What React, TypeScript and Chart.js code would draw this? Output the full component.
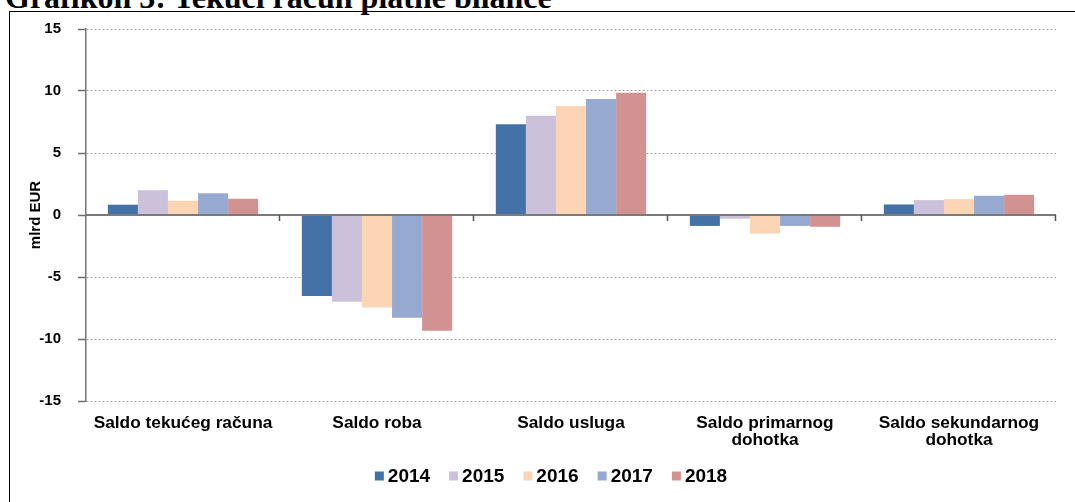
import React, { useEffect, useRef } from "react";
import { Chart, registerables } from "chart.js";

Chart.register(...registerables);

const TITLE = "Grafikon 3: Tekući račun platne bilance";
const Y_TITLE = "mlrd EUR";
const CATEGORIES: (string | string[])[] = [
  "Saldo tekućeg računa",
  "Saldo roba",
  "Saldo usluga",
  ["Saldo primarnog", "dohotka"],
  ["Saldo sekundarnog", "dohotka"],
];
const YEARS = ["2014", "2015", "2016", "2017", "2018"];
const V2014 = [0.83, -6.53, 7.31, -0.88, 0.85];
const V2015 = [2.0, -7.0, 8.0, -0.3, 1.2];
const V2016 = [1.15, -7.45, 8.79, -1.5, 1.28];
const V2017 = [1.75, -8.28, 9.35, -0.88, 1.55];
const V2018 = [1.31, -9.33, 9.86, -0.95, 1.63];
const SERIES = [V2014, V2015, V2016, V2017, V2018];
const COLORS = ["#4472A6", "#CCC1DA", "#FCD5B4", "#95A9D1", "#D39292"];
const Y_MIN = -15;
const Y_MAX = 15;
const Y_STEP = 5;

const FONT = "'Liberation Sans', Arial, sans-serif";

const decorPlugin = {
  id: "decor",
  afterDatasetsDraw(chart: any) {
    const { ctx, chartArea, scales } = chart;
    const y0 = scales.y.getPixelForValue(0);
    ctx.save();
    ctx.strokeStyle = "#7a7a7a";
    ctx.lineWidth = 2;
    ctx.beginPath();
    ctx.moveTo(chartArea.left, y0);
    ctx.lineTo(chartArea.right, y0);
    ctx.stroke();
    const n = chart.data.labels.length;
    const w = (chartArea.right - chartArea.left) / n;
    ctx.strokeStyle = "#555";
    ctx.lineWidth = 1.5;
    for (let i = 1; i <= n; i++) {
      const x = Math.round(chartArea.left + i * w) - 0.5;
      ctx.beginPath();
      ctx.moveTo(x, y0);
      ctx.lineTo(x, y0 + 6);
      ctx.stroke();
    }
    ctx.restore();
  },
  afterDraw(chart: any) {
    const { ctx } = chart;
    ctx.save();
    ctx.font = `bold 19px ${FONT}`;
    ctx.textBaseline = "middle";
    const box = 9;
    const gap = 4;
    const spacing = 19;
    const items = chart.data.datasets.map((d: any) => ({
      label: d.label,
      color: d.backgroundColor,
      tw: ctx.measureText(d.label).width,
    }));
    const total =
      items.reduce((s: number, it: any) => s + box + gap + it.tw, 0) +
      spacing * (items.length - 1);
    const cy = 476;
    let x = 551 - total / 2;
    for (const it of items) {
      ctx.fillStyle = it.color;
      ctx.fillRect(x, cy - box / 2, box, box);
      ctx.fillStyle = "#000";
      ctx.fillText(it.label, x + box + gap, cy + 1);
      x += box + gap + it.tw + spacing;
    }
    ctx.restore();
  },
};

export default function App() {
  const ref = useRef<HTMLCanvasElement>(null);
  useEffect(() => {
    if (!ref.current) return;
    const chart = new Chart(ref.current, {
      type: "bar",
      data: {
        labels: CATEGORIES as any,
        datasets: YEARS.map((y, i) => ({
          label: y,
          data: SERIES[i],
          backgroundColor: COLORS[i],
          borderWidth: 0,
          categoryPercentage: 0.775,
          barPercentage: 1,
        })),
      },
      options: {
        animation: false,
        responsive: false,
        maintainAspectRatio: false,
        layout: { padding: { top: 29, left: 0, right: 19, bottom: 41 } },
        plugins: {
          legend: { display: false },
          tooltip: { enabled: false },
          title: { display: false },
        },
        scales: {
          x: {
            grid: { display: false, drawTicks: false },
            border: { display: false },
            ticks: {
              color: "#000",
              font: { family: FONT, size: 17.3, weight: "bold", lineHeight: 1.03 },
              padding: 13,
              maxRotation: 0,
              autoSkip: false,
            },
            afterFit(scale: any) {
              scale.height = 60;
            },
          },
          y: {
            min: Y_MIN,
            max: Y_MAX,
            ticks: {
              stepSize: Y_STEP,
              color: "#000",
              font: { family: FONT, size: 15, weight: "bold" },
              padding: 17,
            },
            grid: {
              color: (c: any) => (c.tick && c.tick.value === 0 ? "rgba(0,0,0,0)" : "#a0a0a0"),
              lineWidth: 1,
              tickLength: 8,
              tickColor: "#6e6e6e",
              tickWidth: 1.5,
            },
            border: { display: true, color: "#767676", width: 1.5, dash: [2, 2] },
            title: {
              display: true,
              text: Y_TITLE,
              color: "#000",
              font: { family: FONT, size: 15, weight: "bold" },
              padding: { top: 27, bottom: 0 },
            },
            afterFit(scale: any) {
              scale.width = 86;
            },
          },
        },
      },
      plugins: [decorPlugin],
    });
    return () => chart.destroy();
  }, []);

  return (
    <div
      style={{
        position: "absolute",
        left: 0,
        top: 0,
        width: 1075,
        height: 502,
        overflow: "hidden",
        background: "#fff",
      }}
    >
      <div
        style={{
          position: "absolute",
          left: 5,
          top: -19,
          font: "bold 32px 'Liberation Serif', 'Times New Roman', serif",
          lineHeight: "32px",
          whiteSpace: "nowrap",
          color: "#000",
        }}
      >
        {TITLE}
      </div>
      <div
        style={{
          position: "absolute",
          left: 9,
          top: 11,
          width: 1100,
          height: 520,
          border: "1px solid #000",
          boxSizing: "border-box",
        }}
      />
      <canvas
        ref={ref}
        width={1075}
        height={502}
        style={{ position: "absolute", left: 0, top: 0, width: 1075, height: 502 }}
      />
    </div>
  );
}
